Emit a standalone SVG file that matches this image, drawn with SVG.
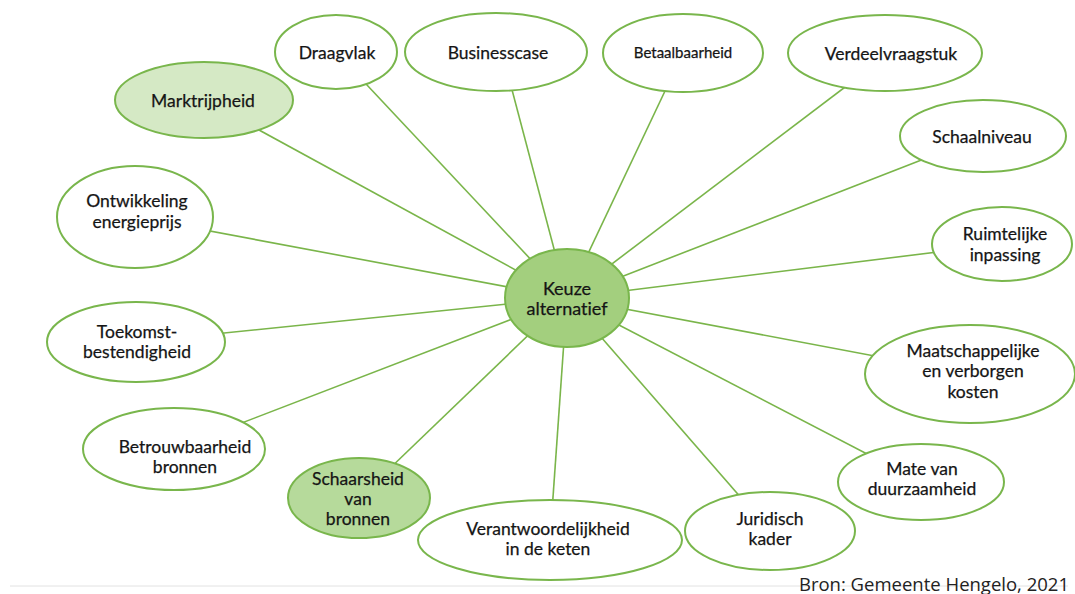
<svg xmlns="http://www.w3.org/2000/svg" width="1075" height="594" viewBox="0 0 1075 594">
<style>
.n{fill:#ffffff;stroke:#79b64c;stroke-width:2}
.g1{fill:#a3cf7e}
.g2{fill:#d5e9c5}
.g3{fill:#b6da9b}
.c line{stroke:#7ab54a;stroke-width:1.6}
text{font-family:Lato,"Liberation Sans",sans-serif;font-size:17.5px;fill:#151515;text-anchor:middle;stroke:#151515;stroke-width:0.25;font-variant-ligatures:none}
.s{font-size:15px}
</style>
<rect width="1075" height="594" fill="#ffffff"/>
<line x1="10" y1="586" x2="1068" y2="586" stroke="#e2e2e2" stroke-width="1"/>
<g class="c" id="connectors">
<line x1="567" y1="298" x2="204" y2="100"/>
<line x1="567" y1="298" x2="336" y2="52"/>
<line x1="567" y1="298" x2="502" y2="52"/>
<line x1="567" y1="298" x2="683" y2="53"/>
<line x1="567" y1="298" x2="890" y2="53"/>
<line x1="567" y1="298" x2="983" y2="136"/>
<line x1="567" y1="298" x2="1002" y2="244"/>
<line x1="567" y1="298" x2="135" y2="217"/>
<line x1="567" y1="298" x2="136" y2="342"/>
<line x1="567" y1="298" x2="174" y2="449"/>
<line x1="567" y1="298" x2="970" y2="374"/>
<line x1="567" y1="298" x2="921" y2="482"/>
<line x1="567" y1="298" x2="359" y2="498"/>
<line x1="567" y1="298" x2="550" y2="540"/>
<line x1="567" y1="298" x2="770" y2="531"/>
</g>
<g id="marktrijpheid"><ellipse class="n g2" cx="204" cy="100" rx="89" ry="38"/><text x="203" y="107">Marktrijpheid</text></g>
<g id="draagvlak"><ellipse class="n" cx="336" cy="52" rx="61" ry="37"/><text x="337" y="59">Draagvlak</text></g>
<g id="businesscase"><ellipse class="n" cx="496" cy="52" rx="91" ry="39"/><text x="498" y="59">Businesscase</text></g>
<g id="betaalbaarheid"><ellipse class="n" cx="683" cy="53" rx="80" ry="39"/><text class="s" x="683" y="58">Betaalbaarheid</text></g>
<g id="verdeelvraagstuk"><ellipse class="n" cx="885" cy="53" rx="97" ry="38"/><text x="891" y="60">Verdeelvraagstuk</text></g>
<g id="schaalniveau"><ellipse class="n" cx="983" cy="136" rx="83" ry="36"/><text x="982" y="143">Schaalniveau</text></g>
<g id="ruimtelijke"><ellipse class="n" cx="1002" cy="244" rx="70" ry="37"/><text x="1005" y="240">Ruimtelijke</text><text x="1005" y="261">inpassing</text></g>
<g id="ontwikkeling"><ellipse class="n" cx="135" cy="217" rx="78" ry="51"/><text x="137" y="207">Ontwikkeling</text><text x="137" y="228">energieprijs</text></g>
<g id="toekomst"><ellipse class="n" cx="136" cy="342" rx="89" ry="40"/><text x="137" y="338">Toekomst-</text><text x="137" y="358">bestendigheid</text></g>
<g id="betrouwbaarheid"><ellipse class="n" cx="174" cy="449" rx="91" ry="41"/><text x="185" y="453">Betrouwbaarheid</text><text x="185" y="473">bronnen</text></g>
<g id="maatschappelijke"><ellipse class="n" cx="970" cy="374" rx="105" ry="49"/><text x="973" y="357">Maatschappelijke</text><text x="973" y="377">en verborgen</text><text x="973" y="398">kosten</text></g>
<g id="mate"><ellipse class="n" cx="921" cy="482" rx="83" ry="38"/><text x="922" y="475">Mate van</text><text x="922" y="495">duurzaamheid</text></g>
<g id="schaarsheid"><ellipse class="n g3" cx="359" cy="498" rx="71" ry="40"/><text x="358" y="485">Schaarsheid</text><text x="358" y="505">van</text><text x="358" y="525">bronnen</text></g>
<g id="verantwoordelijkheid"><ellipse class="n" cx="550" cy="540" rx="132" ry="40"/><text x="548" y="535">Verantwoordelijkheid</text><text x="548" y="555">in de keten</text></g>
<g id="juridisch"><ellipse class="n" cx="770" cy="531" rx="85" ry="39"/><text x="770" y="525">Juridisch</text><text x="770" y="545">kader</text></g>
<g id="keuze"><ellipse class="n g1" cx="567" cy="298" rx="62" ry="49"/><text x="567" y="295" style="font-size:18px">Keuze</text><text x="567" y="315" style="font-size:18px">alternatief</text></g>
<text x="934" y="591" style="font-family:'Open Sans','Liberation Sans',sans-serif;font-size:18.5px;fill:#222;stroke:none">Bron: Gemeente Hengelo, 2021</text>
</svg>
